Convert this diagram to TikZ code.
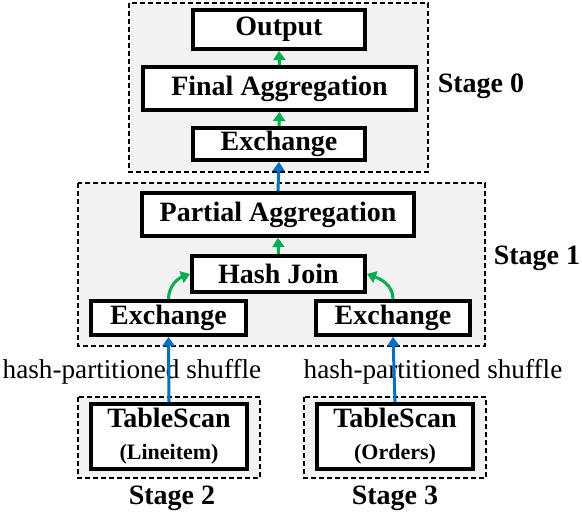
\documentclass[tikz,border=0pt]{standalone}
\usepackage{fontspec}
\setmainfont{Liberation Serif}
\usetikzlibrary{arrows.meta}
\definecolor{stagegray}{HTML}{F2F2F2}
\definecolor{flowgreen}{HTML}{00B050}
\definecolor{flowblue}{HTML}{0070C0}
\tikzset{
  opbox/.style={draw,line width=2pt,fill=white,inner sep=0pt,align=center,font=\fontsize{14}{15}\selectfont\bfseries},
  stagebox/.style={draw,dash pattern=on 2.5pt off 1.5pt,line width=0.7pt,fill=stagegray},
  stagelbl/.style={inner sep=0pt,font=\fontsize{14}{15}\selectfont\bfseries},
  shufflelbl/.style={inner sep=0pt,font=\fontsize{13.6}{15}\selectfont},
  greenflow/.style={-{Triangle[width=6pt,length=4.5pt]},line width=1.5pt,flowgreen},
  blueflow/.style={-{Triangle[width=6pt,length=4.5pt]},line width=1.5pt,flowblue},
}
\begin{document}
\begin{tikzpicture}[x=0.5pt,y=-0.5pt]
\useasboundingbox (0,0) rectangle (582,517);
% stages
\draw[stagebox](129,3) rectangle (428,172);
\draw[stagebox](78,183) rectangle (485,346);
\draw[stagebox](78,397) rectangle (260,478);
\draw[stagebox](304,397) rectangle (486,478);
\node[stagelbl](s0) at (481,86){Stage 0};
\node[stagelbl](s1) at (537,258){Stage 1};
\node[stagelbl](s2) at (172,498){Stage 2};
\node[stagelbl](s3) at (395,498){Stage 3};
% operators
\node[opbox,minimum width=86pt,minimum height=19.5pt](out) at (279,29.5){Output};
\node[opbox,minimum width=136.5pt,minimum height=21.5pt](fagg) at (279.5,88.5){Final Aggregation};
\node[opbox,minimum width=86pt,minimum height=16pt](exch0) at (279,144){Exchange};
\node[opbox,minimum width=136pt,minimum height=21.5pt](pagg) at (278,214.5){Partial Aggregation};
\node[opbox,minimum width=86.5pt,minimum height=18pt](hj) at (278.5,274){Hash Join};
\node[opbox,minimum width=77.5pt,minimum height=17pt](exL) at (168.5,318){Exchange};
\node[opbox,minimum width=77pt,minimum height=17pt](exR) at (393,318){Exchange};
\node[opbox,minimum width=78pt,minimum height=32.5pt](ts2) at (169,436.5){TableScan\\[1pt]{\fontsize{11}{12}\selectfont(Lineitem)}};
\node[opbox,minimum width=78pt,minimum height=32.5pt](ts3) at (395,436.5){TableScan\\[1pt]{\fontsize{11}{12}\selectfont(Orders)}};
\node[shufflelbl](shL) at (132,372){hash-partitioned shuffle};
\node[shufflelbl](shR) at (433,372){hash-partitioned shuffle};
% flows
\draw[greenflow](fagg.north) -- (out.south);
\draw[greenflow](exch0.north) -- (fagg.south);
\draw[greenflow](hj.north) -- (pagg.south);
\draw[greenflow](exL.north) to [out=90,in=200] (hj.west);
\draw[greenflow](exR.north) to [out=90,in=-20] (hj.east);
\draw[blueflow](pagg.north) -- (exch0.south);
\draw[blueflow](ts2.north) -- (exL.south);
\draw[blueflow](ts3.north) -- (exR.south);
\end{tikzpicture}
\end{document}
